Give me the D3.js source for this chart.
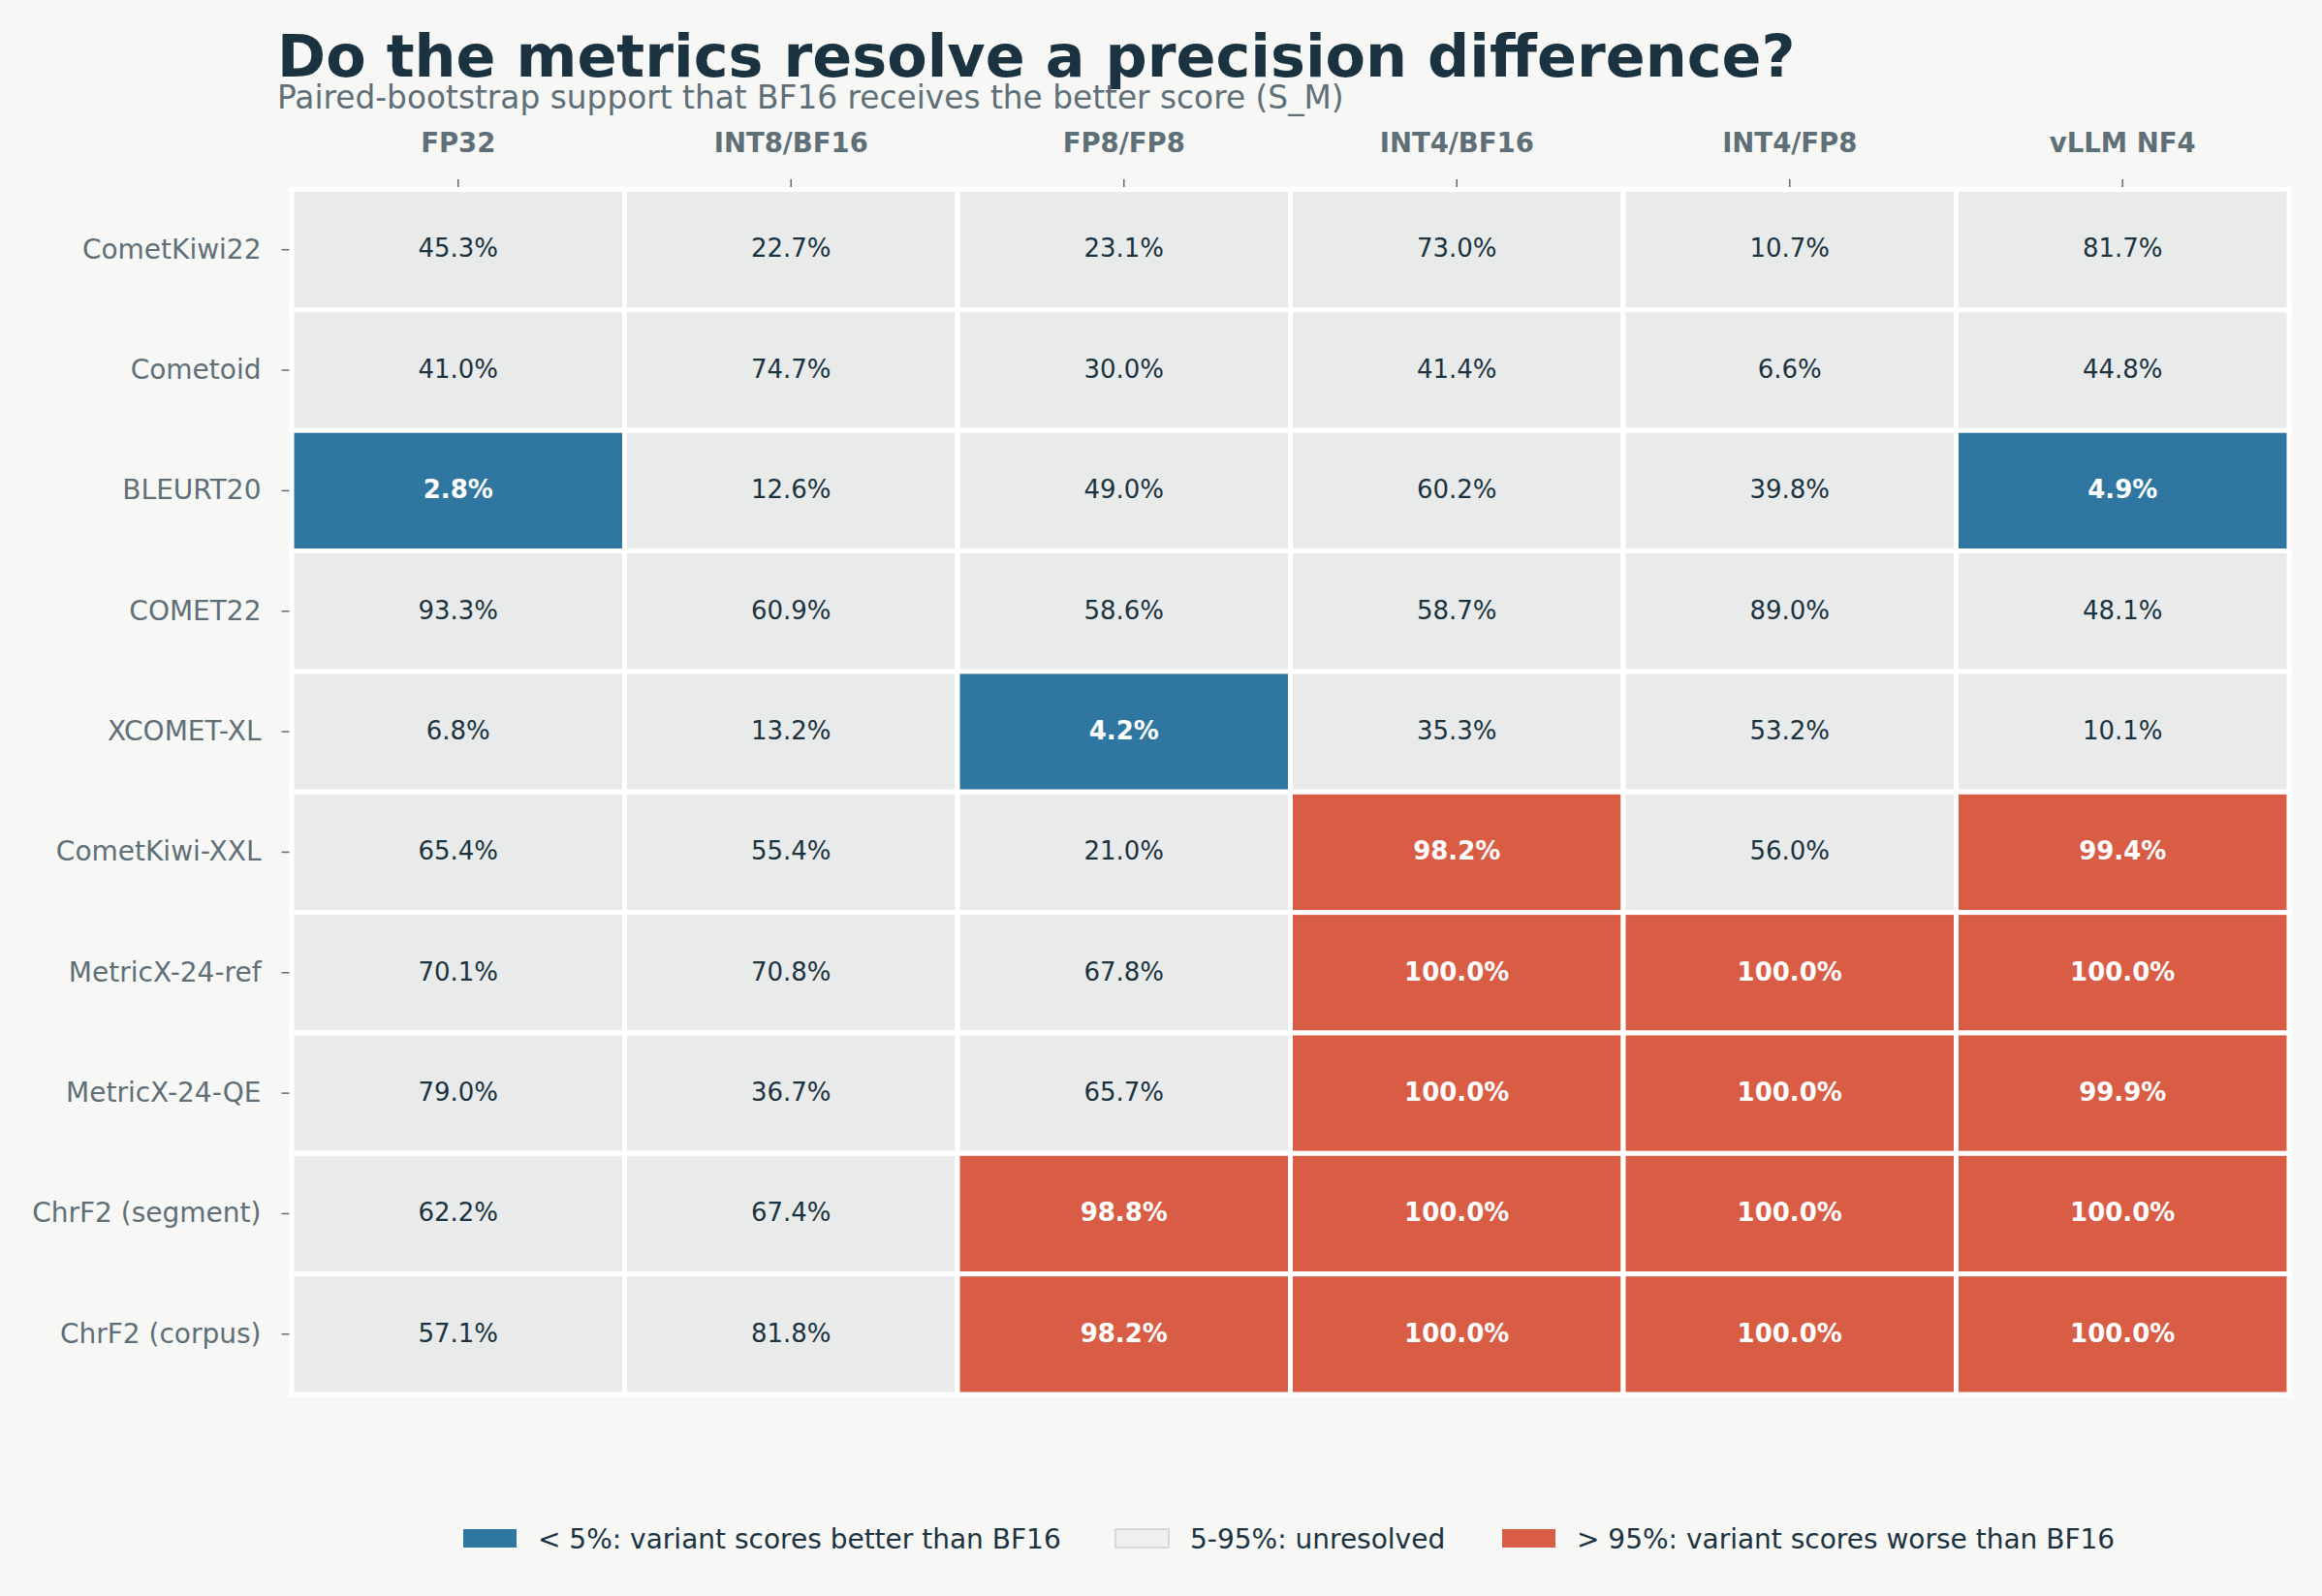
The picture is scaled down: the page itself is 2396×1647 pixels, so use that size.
<!DOCTYPE html>
<html lang="en">
<head>
  <meta charset="UTF-8">
  <title>Precision difference heatmap</title>
  <script src="https://d3js.org/d3.v7.min.js"></script>
  <style>
    body { margin: 0; background: #f7f7f5; }
    svg text { font-family: "DejaVu Sans", sans-serif; }
  </style>
</head>
<body>
  <svg id="chart" width="2396" height="1647"></svg>
  <script>
    // data
    let metrics = ['CometKiwi22', 'Cometoid', 'BLEURT20', 'COMET22', 'XCOMET-XL',
      'CometKiwi-XXL', 'MetricX-24-ref', 'MetricX-24-QE', 'ChrF2 (segment)', 'ChrF2 (corpus)'];
    let variants = ['FP32', 'INT8/BF16', 'FP8/FP8', 'INT4/BF16', 'INT4/FP8', 'vLLM NF4'];
    let support = [
      [45.3, 22.7, 23.1, 73.0, 10.7, 81.7],
      [41.0, 74.7, 30.0, 41.4, 6.6, 44.8],
      [2.8, 12.6, 49.0, 60.2, 39.8, 4.9],
      [93.3, 60.9, 58.6, 58.7, 89.0, 48.1],
      [6.8, 13.2, 4.2, 35.3, 53.2, 10.1],
      [65.4, 55.4, 21.0, 98.2, 56.0, 99.4],
      [70.1, 70.8, 67.8, 100.0, 100.0, 100.0],
      [79.0, 36.7, 65.7, 100.0, 100.0, 99.9],
      [62.2, 67.4, 98.8, 100.0, 100.0, 100.0],
      [57.1, 81.8, 98.2, 100.0, 100.0, 100.0]
    ];
    let legendLabels = ['< 5%: variant scores better than BF16', '5-95%: unresolved',
      '> 95%: variant scores worse than BF16'];

    let blue = '#2f77a0', red = '#d95c45', grey = '#e8ebea';
    let ink = '#1b3340', muted = '#5f6f78';

    let gridLeft = 301, gridRight = 2362, gridTop = 195.5, gridBottom = 1439;

    let svg = d3.select('#chart');

    let x = d3.scaleBand().domain(variants).range([gridLeft, gridRight]);
    let y = d3.scaleBand().domain(metrics).range([gridTop, gridBottom]);

    function cellColor(v) {
      if (v < 5) return blue;
      if (v > 95) return red;
      return grey;
    }

    let cells = [];
    metrics.forEach(function (m, i) {
      variants.forEach(function (c, j) {
        cells.push({ metric: m, variant: c, value: support[i][j] });
      });
    });

    // cells
    svg.append('g')
      .selectAll('rect')
      .data(cells)
      .join('rect')
      .attr('x', function (d) { return x(d.variant); })
      .attr('y', function (d) { return y(d.metric); })
      .attr('width', x.bandwidth())
      .attr('height', y.bandwidth())
      .attr('fill', function (d) { return cellColor(d.value); })
      .attr('stroke', '#ffffff')
      .attr('stroke-width', 5);

    // cell labels
    svg.append('g')
      .selectAll('text')
      .data(cells)
      .join('text')
      .attr('x', function (d) { return x(d.variant) + x.bandwidth() / 2; })
      .attr('y', function (d) { return y(d.metric) + y.bandwidth() / 2; })
      .attr('dy', '0.3em')
      .attr('text-anchor', 'middle')
      .attr('font-size', 26)
      .attr('font-weight', function (d) { return cellColor(d.value) === grey ? 'normal' : 'bold'; })
      .attr('fill', function (d) { return cellColor(d.value) === grey ? ink : '#ffffff'; })
      .text(function (d) { return d.value.toFixed(1) + '%'; });

    // axes
    let axisTop = d3.axisTop(x).tickSize(8).tickPadding(28);
    let gTop = svg.append('g').attr('transform', 'translate(0,' + (gridTop - 2.5) + ')').call(axisTop);
    gTop.selectAll('text').attr('font-size', 27.5).attr('font-weight', 'bold').attr('fill', muted);

    let axisLeft = d3.axisLeft(y).tickSize(8).tickPadding(21);
    let gLeft = svg.append('g').attr('transform', 'translate(' + (gridLeft - 2.5) + ',0)').call(axisLeft);
    gLeft.selectAll('text').attr('font-size', 28).attr('fill', muted);

    [gTop, gLeft].forEach(function (g) {
      g.select('.domain').remove();
      g.selectAll('line').attr('stroke', muted).attr('stroke-width', 1.5);
      g.selectAll('text').attr('font-family', '"DejaVu Sans", sans-serif');
    });

    // titles
    svg.append('text')
      .attr('x', 286).attr('y', 79)
      .attr('font-size', 60.4).attr('font-weight', 'bold').attr('fill', ink)
      .text('Do the metrics resolve a precision difference?');
    svg.append('text')
      .attr('x', 286).attr('y', 112)
      .attr('font-size', 32.8).attr('fill', muted)
      .text('Paired-bootstrap support that BF16 receives the better score (S_M)');

    // legend
    let legendX = [478, 1151, 1550];
    let legendFill = [blue, '#efefee', red];
    let legend = svg.append('g')
      .selectAll('g')
      .data(legendLabels)
      .join('g')
      .attr('transform', function (d, i) { return 'translate(' + legendX[i] + ',1578)'; });
    legend.append('rect')
      .attr('width', 55).attr('height', 19)
      .attr('fill', function (d, i) { return legendFill[i]; })
      .attr('stroke', function (d, i) { return i === 1 ? '#d5d9da' : 'none'; })
      .attr('stroke-width', 2);
    legend.append('text')
      .attr('x', 77).attr('y', 9.5).attr('dy', '0.36em')
      .attr('font-size', 28).attr('fill', ink)
      .text(function (d) { return d; });
  </script>
</body>
</html>
